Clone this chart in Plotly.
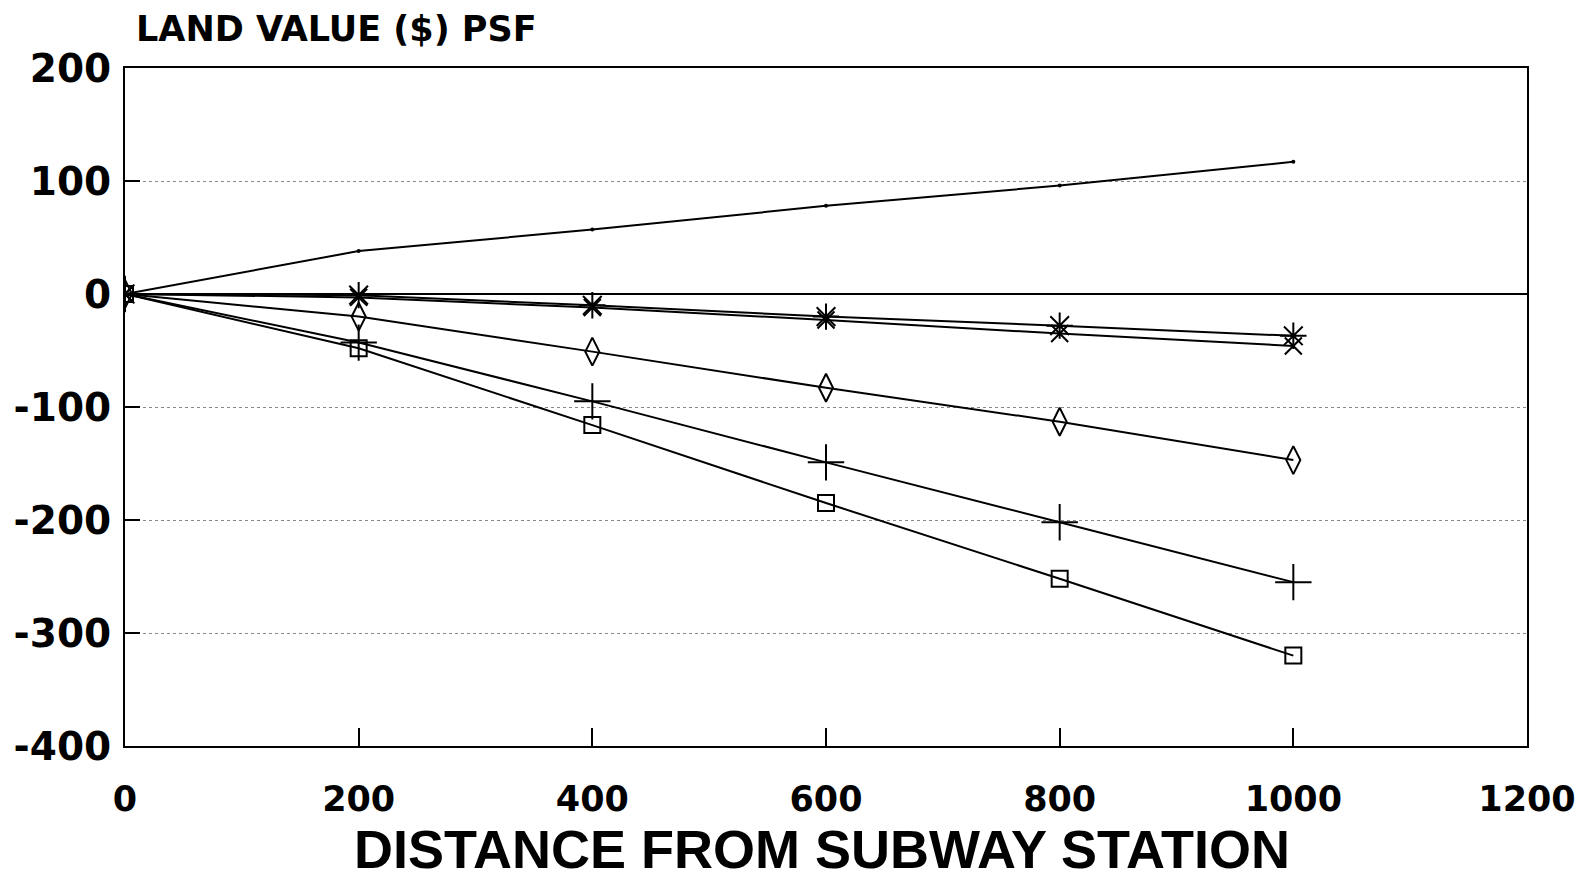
import plotly.graph_objects as go

distance = [0, 200, 400, 600, 800, 1000]
series_dot = [0, 38, 57, 78, 96, 117]
series_star = [0, -1, -10, -20, -28, -37]
series_x = [0, -3, -12, -23, -35, -46]
series_diamond = [0, -20, -51, -83, -113, -147]
series_plus = [0, -43, -95, -149, -202, -255]
series_square = [0, -48, -116, -185, -252, -320]

x_ticks = [0, 200, 400, 600, 800, 1000, 1200]
y_ticks = [-400, -300, -200, -100, 0, 100, 200]

fig = go.Figure()

def add(y, symbol, size, width=2):
    fig.add_trace(go.Scatter(
        x=distance, y=y, mode="lines+markers",
        line=dict(color="black", width=2),
        marker=dict(symbol=symbol, size=size, color="black",
                    line=dict(color="black", width=width)),
        showlegend=False, hoverinfo="x+y"))

add(series_dot, "circle", 4, 0)
add(series_star, "asterisk-open", 22)
add(series_x, "x-thin-open", 17)
add(series_diamond, "diamond-tall-open", 20)
add(series_plus, "cross-thin-open", 26)
add(series_square, "square-open", 16)

x_tick_font = dict(family="DejaVu Sans, Liberation Sans, sans-serif", size=35, color="black", weight="bold")
y_tick_font = dict(family="DejaVu Sans, Liberation Sans, sans-serif", size=39, color="black", weight="bold")

fig.update_layout(
    width=1581, height=881,
    paper_bgcolor="white", plot_bgcolor="white",
    margin=dict(l=125, r=54, t=68, b=135, autoexpand=False),
    xaxis=dict(range=[0, 1200], tickvals=x_ticks, ticktext=[str(v) for v in x_ticks],
               showgrid=False, zeroline=False, showline=True, linecolor="black",
               linewidth=2, mirror=True, ticks="inside", ticklen=18, tickwidth=1.5,
               tickcolor="black", tickfont=x_tick_font, ticklabelstandoff=21,
               automargin=False),
    yaxis=dict(range=[-400, 200], tickvals=y_ticks, ticktext=[str(v) for v in y_ticks],
               showgrid=True, gridcolor="#888888", griddash="dot", gridwidth=1,
               zeroline=True, zerolinecolor="black", zerolinewidth=2,
               showline=True, linecolor="black", linewidth=2, mirror=True,
               ticks="inside", ticklen=15, tickwidth=1.5, tickcolor="black",
               tickfont=y_tick_font, ticklabelstandoff=4, automargin=False),
    annotations=[
        dict(text="LAND VALUE ($) PSF", xref="paper", yref="paper",
             x=(134 - 125) / 1402, y=1, xanchor="left", yanchor="bottom", yshift=17,
             showarrow=False,
             font=dict(family="DejaVu Sans, Liberation Sans, sans-serif", size=35, color="black", weight="bold")),
        dict(text="DISTANCE FROM SUBWAY STATION", xref="paper", yref="paper",
             x=0.497, y=0, xanchor="center", yanchor="bottom", yshift=-135,
             showarrow=False,
             font=dict(family="Liberation Sans, Arial, sans-serif",
                       size=54, color="black", weight="bold")),
    ],
)

fig.write_html("out.html", config={"displayModeBar": False},
               post_script="document.body.style.margin='0px';")
